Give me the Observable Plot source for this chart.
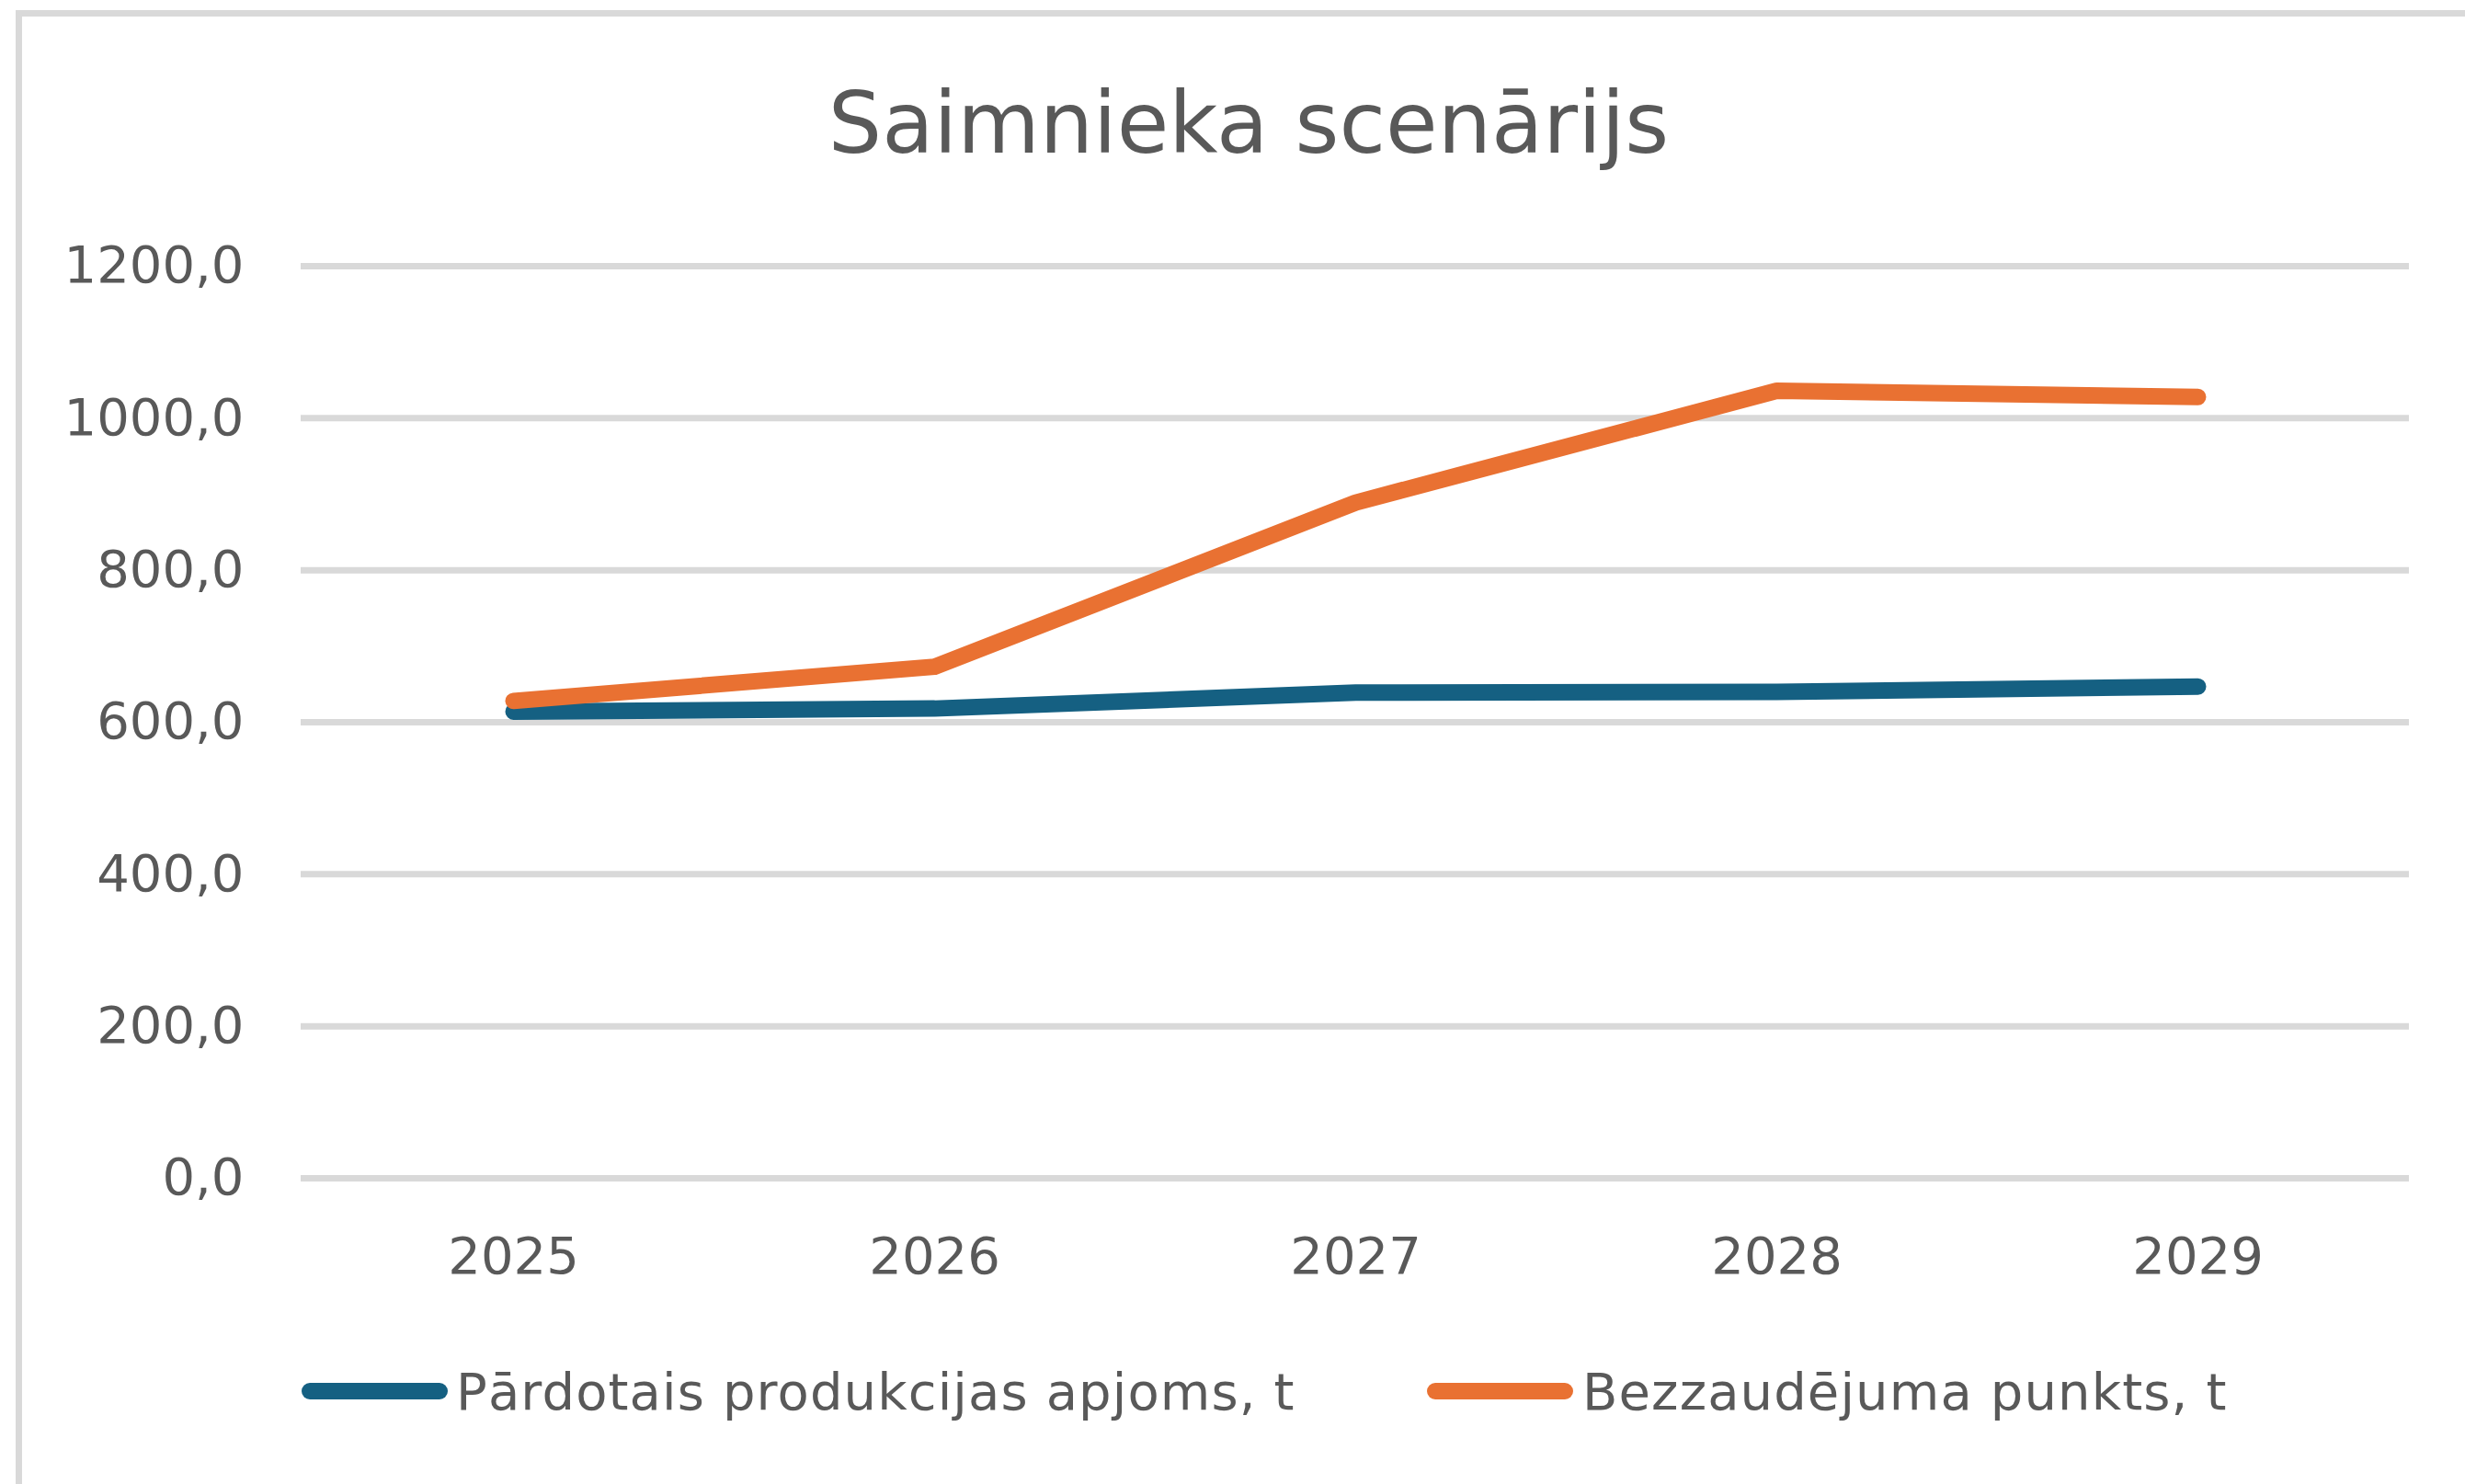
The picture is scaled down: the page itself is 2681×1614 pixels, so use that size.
<!DOCTYPE html>
<html><head><meta charset="utf-8">
<script src="https://cdn.jsdelivr.net/npm/d3@7"></script>
<script src="https://cdn.jsdelivr.net/npm/@observablehq/plot@0.6"></script>
<style>
html,body{margin:0;padding:0;background:#fff;}
#wrap{position:relative;width:2681px;height:1614px;overflow:hidden;background:#fff;font-family:"DejaVu Sans",sans-serif;color:#595959;}
#frame{position:absolute;left:17px;top:11px;width:3000px;height:2000px;border-left:7px solid #d9d9d9;border-top:7px solid #d9d9d9;box-sizing:border-box;}
#title{position:absolute;top:89px;left:1358px;transform:translateX(-50%);font-size:92px;line-height:92px;white-space:nowrap;}
#chart{position:absolute;left:0;top:240px;}
.lg{position:absolute;top:1486px;font-size:56px;line-height:56px;white-space:nowrap;letter-spacing:0.02em;}
.sw{position:absolute;height:18px;border-radius:9px;top:1504px;}
</style></head>
<body>
<div id="wrap">
  <div id="frame"></div>
  <div id="title"></div>
  <div id="chart"></div>
  <div id="legend"></div>
</div>
<script>
const titleText = "Saimnieka scenārijs";
const years = ["2025", "2026", "2027", "2028", "2029"];
const soldVolume = [614, 618, 639, 640, 647];
const breakEven = [628, 673, 889, 1036, 1028];
const seriesNames = ["Pārdotais produkcijas apjoms, t", "Bezzaudējuma punkts, t"];
const seriesColors = ["#156082", "#E97132"];
const yTicks = [0, 200, 400, 600, 800, 1000, 1200];

const seriesValues = [soldVolume, breakEven];
const data = seriesNames.flatMap((s, i) => years.map((y, j) => ({series: s, year: y, value: seriesValues[i][j]})));

document.getElementById("title").textContent = titleText;

const fmt = d => d3.format(".1f")(d).replace(".", ",");

const chart = Plot.plot({
  width: 2681,
  height: 1160,
  marginTop: 49,
  marginBottom: 119,
  marginLeft: 327,
  marginRight: 61,
  style: {fontFamily: "DejaVu Sans, sans-serif", fontSize: "56px", color: "#595959", background: "transparent", overflow: "visible"},
  x: {type: "point", domain: years, padding: 0.5, label: null},
  y: {domain: [0, 1200], label: null},
  color: {domain: seriesNames, range: seriesColors},
  marks: [
    Plot.ruleY(yTicks, {stroke: "#d9d9d9", strokeWidth: 7}),
    Plot.axisY(yTicks, {tickSize: 0, tickPadding: 62, tickFormat: fmt, fontSize: 56, label: null}),
    Plot.axisX({tickSize: 0, tickPadding: 64, fontSize: 56, label: null}),
    Plot.lineY(data, {x: "year", y: "value", z: "series", stroke: "series", strokeWidth: 18, strokeLinecap: "round", strokeLinejoin: "round"})
  ]
});
document.getElementById("chart").appendChild(chart);

// legend
const legend = document.getElementById("legend");
const swatchX = [328, 1552];
const textX = [496, 1721];
seriesNames.forEach((name, i) => {
  const sw = document.createElement("div");
  sw.className = "sw";
  sw.style.left = swatchX[i] + "px";
  sw.style.width = "159px";
  sw.style.background = seriesColors[i];
  legend.appendChild(sw);
  const t = document.createElement("div");
  t.className = "lg";
  t.style.left = textX[i] + "px";
  t.textContent = name;
  legend.appendChild(t);
});
</script>
</body></html>
